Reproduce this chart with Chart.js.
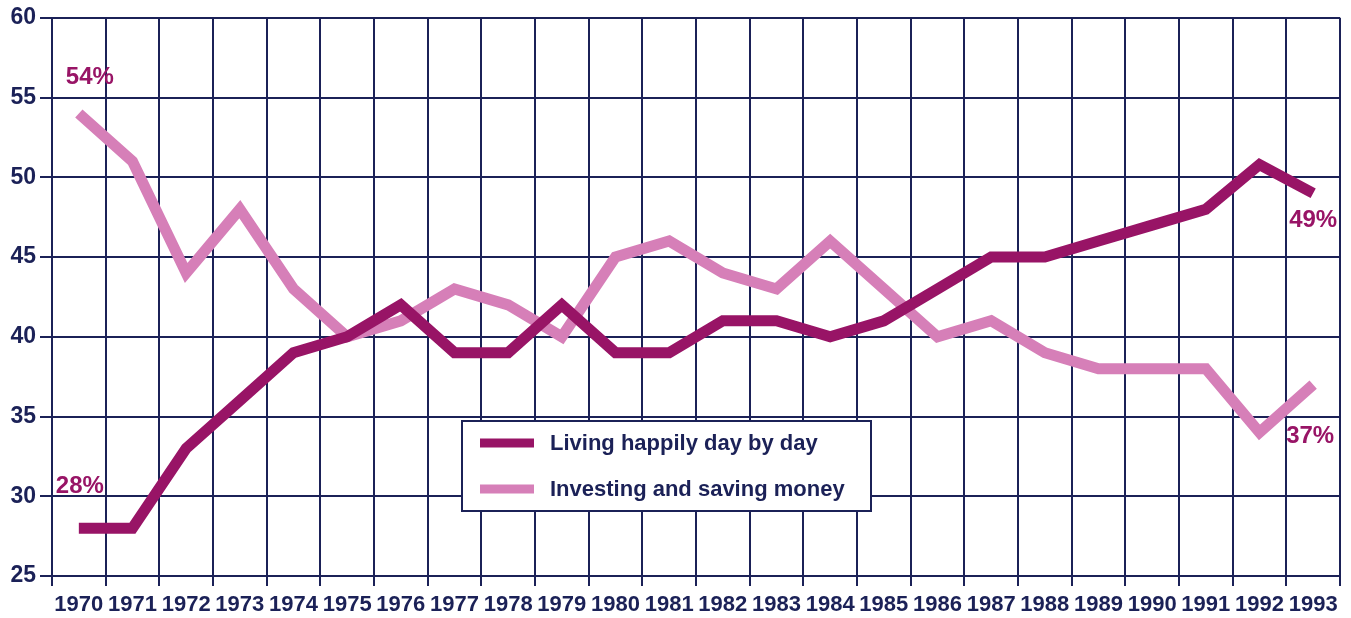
<!DOCTYPE html>
<html>
<head>
<meta charset="utf-8">
<title>Living happily vs investing</title>
<script src="https://cdn.jsdelivr.net/npm/chart.js@4.4.1/dist/chart.umd.min.js"></script>
<style>
  html, body { margin: 0; padding: 0; background: #fff; }
  #wrap { width: 1351px; height: 618px; position: relative; }
</style>
</head>
<body>
<div id="wrap"><canvas id="chart" width="1351" height="618"></canvas></div>
<script>
const years = ['1970','1971','1972','1973','1974','1975','1976','1977','1978','1979','1980','1981',
  '1982','1983','1984','1985','1986','1987','1988','1989','1990','1991','1992','1993'];
const livingHappily = [28, 28, 33, 36, 39, 40, 42, 39, 39, 42, 39, 39, 41, 41, 40, 41, 43, 45, 45, 46, 47, 48, 50.8, 49];
const investingSaving = [54, 51, 44, 48, 43, 40, 41, 43, 42, 40, 45, 46, 44, 43, 46, 43, 40, 41, 39, 38, 38, 38, 34, 37];
const seriesNames = ['Living happily day by day', 'Investing and saving money'];
const yTicks = [25, 30, 35, 40, 45, 50, 55, 60];

// which points get a percent label: [dataset, index]
const callouts = [[1, 0], [0, 0], [0, 23], [1, 23]];

const NAVY = '#1b2157';
const PLUM = '#981466';
const PINK = '#d67fb8';
const FONT = '"Liberation Sans", Arial, sans-serif';

const calloutPlugin = {
  id: 'callouts',
  afterDatasetsDraw(chart) {
    const ctx = chart.ctx;
    const offsets = [[-13, -36], [-23, -42], [-24, 27], [-27, 52]];
    ctx.save();
    ctx.font = 'bold 24px ' + FONT;
    ctx.fillStyle = PLUM;
    ctx.textBaseline = 'middle';
    ctx.textAlign = 'left';
    callouts.forEach((c, i) => {
      let pt = chart.getDatasetMeta(c[0]).data[c[1]];
      let val = chart.data.datasets[c[0]].data[c[1]];
      ctx.fillText(Math.round(val) + '%', pt.x + offsets[i][0], pt.y + offsets[i][1]);
    });
    ctx.restore();
  }
};

const legendBoxPlugin = {
  id: 'legendBox',
  afterDatasetsDraw(chart) {
    const ctx = chart.ctx;
    let x = 462, y = 421, w = 409, h = 90;
    ctx.save();
    ctx.fillStyle = '#fff';
    ctx.fillRect(x, y, w, h);
    ctx.strokeStyle = NAVY;
    ctx.lineWidth = 2;
    ctx.strokeRect(x, y, w, h);
    ctx.font = 'bold 22px ' + FONT;
    ctx.textBaseline = 'middle';
    chart.data.datasets.forEach((ds, i) => {
      let ry = y + 22 + i * 46;
      ctx.strokeStyle = ds.borderColor;
      ctx.lineWidth = 9;
      ctx.lineCap = 'butt';
      ctx.beginPath();
      ctx.moveTo(x + 18, ry);
      ctx.lineTo(x + 72, ry);
      ctx.stroke();
      ctx.fillStyle = NAVY;
      ctx.fillText(ds.label, x + 88, ry + 1);
    });
    ctx.restore();
  }
};

new Chart(document.getElementById('chart'), {
  type: 'line',
  data: {
    labels: years,
    datasets: [
      {
        label: seriesNames[0],
        data: livingHappily,
        borderColor: PLUM,
        borderWidth: 11,
        borderCapStyle: 'butt',
        borderJoinStyle: 'miter',
        pointRadius: 0,
        tension: 0
      },
      {
        label: seriesNames[1],
        data: investingSaving,
        borderColor: PINK,
        borderWidth: 11,
        borderCapStyle: 'butt',
        borderJoinStyle: 'miter',
        pointRadius: 0,
        tension: 0
      }
    ]
  },
  options: {
    responsive: false,
    animation: false,
    layout: { padding: { top: 14, right: 11, left: 0, bottom: 0 } },
    plugins: {
      legend: { display: false },
      tooltip: { enabled: false }
    },
    scales: {
      x: {
        offset: true,
        grid: { offset: true, color: NAVY, lineWidth: 2, tickLength: 10, drawTicks: true },
        border: { color: NAVY, width: 2 },
        ticks: {
          color: NAVY,
          font: { family: FONT, size: 22, weight: 'bold' },
          padding: 6,
          maxRotation: 0,
          autoSkip: false
        },
        afterFit(scale) { scale.height = 42; }
      },
      y: {
        min: yTicks[0],
        max: yTicks[yTicks.length - 1],
        afterBuildTicks(scale) { scale.ticks = yTicks.map(v => ({ value: v })); },
        grid: { color: NAVY, lineWidth: 2, tickLength: 12 },
        border: { color: NAVY, width: 2 },
        ticks: {
          color: NAVY,
          font: { family: FONT, size: 23, weight: 'bold' },
          padding: 4
        },
        afterFit(scale) { scale.width = 52; }
      }
    }
  },
  plugins: [calloutPlugin, legendBoxPlugin]
});
</script>
</body>
</html>
